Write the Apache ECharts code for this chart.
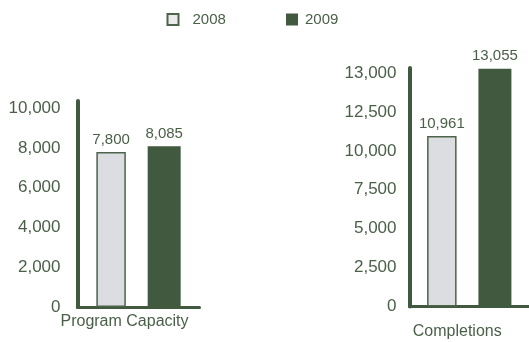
<!DOCTYPE html>
<html>
<head>
<meta charset="utf-8">
<script src="https://cdn.jsdelivr.net/npm/echarts@6/dist/echarts.min.js"></script>
<style>
html,body{margin:0;padding:0;background:#fff;}
#chart{width:529px;height:342px;}
</style>
</head>
<body>
<div id="chart"></div>
<script>
// ---- data ----
const categories = ['Program Capacity', 'Completions'];
const seriesNames = ['2008', '2009'];
const values2008 = [7800, 10961];
const values2009 = [8085, 13055];
// left panel ticks (linear)
const leftTickInterval = 2000;
const leftTickMax = 10000;
// right panel ticks (evenly spaced labels, uneven values)
const rightTickValues = [0, 2500, 5000, 7500, 10000, 12500, 13000];
const rightTickLabels = ['0', '2,500', '5,000', '7,500', '10,000', '12,500', '13,000'];

// map a value onto the right panel's evenly spaced tick positions
function toRightIndex(v) {
  const t = rightTickValues;
  for (let i = 1; i < t.length; i++) {
    if (v <= t[i]) return (i - 1) + (v - t[i - 1]) / (t[i] - t[i - 1]);
  }
  const n = t.length - 1;
  return n + (v - t[n]) / (t[n] - t[n - 1]);
}

const fmt = v => v.toLocaleString('en-US');
const DARK = '#41593f';
const LIGHT = '#dcdde1';
const TXT = '#4a5f48';
const FONT = '"Liberation Sans", Arial, sans-serif';

const chart = echarts.init(document.getElementById('chart'));

const labelStyle = (vals) => ({
  show: true, position: 'top', distance: 5,
  color: TXT, fontSize: 15, fontFamily: FONT,
  formatter: p => fmt(vals[p.dataIndex])
});

chart.setOption({
  animation: false,
  textStyle: { fontFamily: FONT },
  legend: [
    {
      data: [{ name: seriesNames[0], itemStyle: { color: '#ebebeb', borderColor: '#4d634b', borderWidth: 2 } }],
      left: 161.5, top: 7, itemWidth: 11, itemHeight: 11,
      icon: 'rect', selectedMode: false,
      textStyle: { color: TXT, fontSize: 15, fontFamily: FONT, padding: [0, 0, 0, 9] }
    },
    {
      data: [{ name: seriesNames[1] }],
      left: 281, top: 7, itemWidth: 12, itemHeight: 12,
      icon: 'rect', selectedMode: false,
      textStyle: { color: TXT, fontSize: 15, fontFamily: FONT, padding: [0, 0, 0, 2] }
    }
  ],
  grid: [
    { left: 77.5, width: 122, top: 101, bottom: 35 },
    { left: 409.5, right: -6, top: 68, bottom: 35.5 }
  ],
  xAxis: [
    {
      type: 'category', gridIndex: 0, data: [categories[0]],
      axisLine: { lineStyle: { color: DARK, width: 3 } },
      axisTick: { show: false },
      axisLabel: { color: TXT, fontSize: 16, fontFamily: FONT, margin: 7, padding: [0, 28, 0, 0] }
    },
    {
      type: 'category', gridIndex: 1, data: [categories[1]],
      axisLine: { lineStyle: { color: DARK, width: 3 } },
      axisTick: { show: false },
      axisLabel: { color: TXT, fontSize: 16, fontFamily: FONT, margin: 17, padding: [0, 24, 0, 0] }
    }
  ],
  yAxis: [
    {
      type: 'value', gridIndex: 0, min: 0, max: 10366, interval: leftTickInterval,
      axisLine: { show: true, lineStyle: { color: DARK, width: 4 } },
      axisTick: { show: false },
      splitLine: { show: false },
      axisLabel: {
        color: TXT, fontSize: 17, fontFamily: FONT, margin: 17, showMaxLabel: false,
        formatter: v => (v <= leftTickMax ? fmt(v) : '')
      }
    },
    {
      type: 'value', gridIndex: 1, min: 0, max: 6.13, interval: 1,
      axisLine: { show: true, lineStyle: { color: DARK, width: 4 } },
      axisTick: { show: false },
      splitLine: { show: false },
      axisLabel: {
        color: TXT, fontSize: 17, fontFamily: FONT, margin: 13, showMaxLabel: false,
        formatter: v => (Number.isInteger(v) && rightTickLabels[v] !== undefined ? rightTickLabels[v] : '')
      }
    }
  ],
  series: [
    {
      name: seriesNames[0], type: 'bar', xAxisIndex: 0, yAxisIndex: 0,
      data: [values2008[0]], barWidth: 29.5, barGap: '74%',
      itemStyle: { color: LIGHT, borderColor: '#4d634b', borderWidth: 1.5 },
      label: labelStyle([values2008[0]])
    },
    {
      name: seriesNames[1], type: 'bar', xAxisIndex: 0, yAxisIndex: 0,
      data: [values2009[0]], barWidth: 33,
      itemStyle: { color: DARK },
      label: labelStyle([values2009[0]])
    },
    {
      name: seriesNames[0], type: 'bar', xAxisIndex: 1, yAxisIndex: 1,
      data: [toRightIndex(values2008[1])], barWidth: 29.5, barGap: '74%',
      itemStyle: { color: LIGHT, borderColor: '#4d634b', borderWidth: 1.5 },
      label: labelStyle([values2008[1]])
    },
    {
      name: seriesNames[1], type: 'bar', xAxisIndex: 1, yAxisIndex: 1,
      data: [toRightIndex(values2009[1])], barWidth: 33,
      itemStyle: { color: DARK },
      label: labelStyle([values2009[1]])
    }
  ]
});
</script>
</body>
</html>
